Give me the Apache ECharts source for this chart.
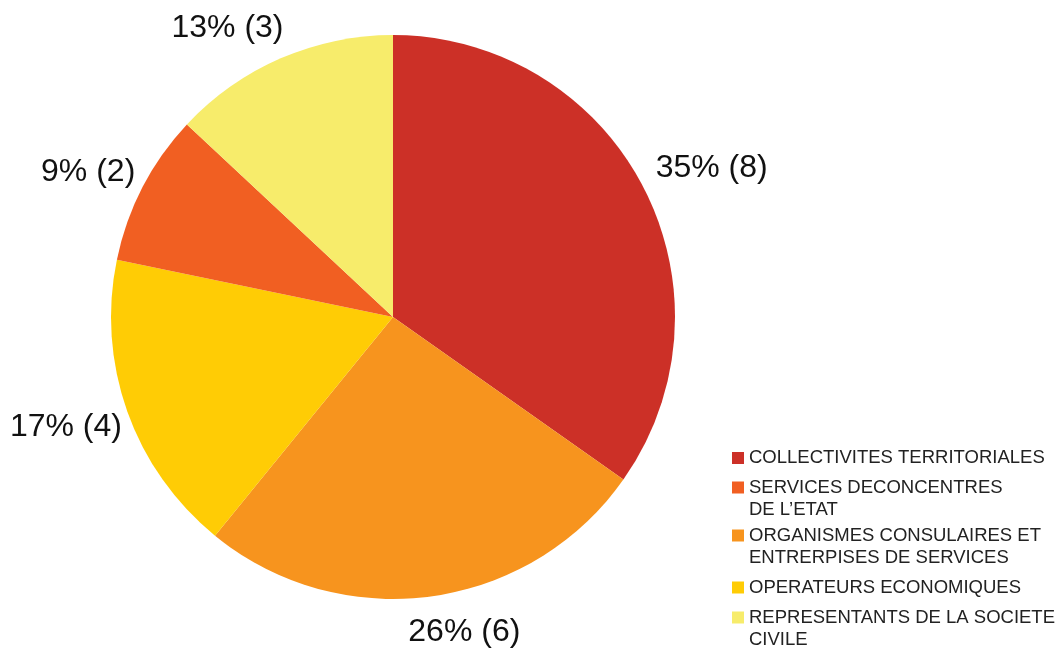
<!DOCTYPE html>
<html>
<head>
<meta charset="utf-8">
<script src="https://cdn.jsdelivr.net/npm/echarts@6/dist/echarts.min.js"></script>
<style>
  html, body { margin: 0; padding: 0; background: #fff; }
  #chart { width: 1062px; height: 651px; }
</style>
</head>
<body>
<div id="chart"></div>
<script>
// Slice order, clockwise from 12 o'clock
const categories = [
  'COLLECTIVITES TERRITORIALES',
  'ORGANISMES CONSULAIRES ET\nENTRERPISES DE SERVICES',
  'OPERATEURS ECONOMIQUES',
  'SERVICES DECONCENTRES\nDE L\u2019ETAT',
  'REPRESENTANTS DE LA SOCIETE\nCIVILE'
];
const counts = [8, 6, 4, 2, 3];
const sliceColors = ['#CC3027', '#F7941E', '#FFCC05', '#F15F22', '#F7EC6B'];

// Legend order (top to bottom)
const legendOrder = [
  'COLLECTIVITES TERRITORIALES',
  'SERVICES DECONCENTRES\nDE L\u2019ETAT',
  'ORGANISMES CONSULAIRES ET\nENTRERPISES DE SERVICES',
  'OPERATEURS ECONOMIQUES',
  'REPRESENTANTS DE LA SOCIETE\nCIVILE'
];
// Vertical position of each legend entry
const legendTops = [447, 476.5, 524.5, 576.5, 606.5];

// Label placement around the pie (radial offset, horizontal offset) per slice
const labelLen = [42, 36, 46, 33, 33];
const labelLen2 = [-30, -33, -43, -27, -21];

const FONT = 'Liberation Sans, Arial, Helvetica, sans-serif';
const LEGEND_LINE = 22;

const chart = echarts.init(document.getElementById('chart'), null, { renderer: 'canvas' });

const pieData = categories.map((name, i) => ({
  name: name,
  value: counts[i],
  itemStyle: { color: sliceColors[i] },
  labelLine: { show: false, length: labelLen[i], length2: labelLen2[i] }
}));

// One legend block per entry; wrapped entries keep the square beside the first line
const legends = legendOrder.map((name, i) => {
  const multi = name.indexOf('\n') >= 0;
  const h = multi ? 12 + LEGEND_LINE : 12;
  const icon = multi
    ? 'path://M0,0h12v12h-12zM0,' + h + 'h0'
    : 'rect';
  return {
    orient: 'vertical',
    left: 732,
    top: legendTops[i],
    padding: 0,
    itemWidth: 12,
    itemHeight: h,
    itemGap: 0,
    selectedMode: false,
    data: [{ name: name, icon: icon }],
    textStyle: {
      fontFamily: FONT,
      fontSize: 18.5,
      lineHeight: LEGEND_LINE,
      color: '#222222'
    }
  };
});

chart.setOption({
  backgroundColor: '#ffffff',
  animation: false,
  color: sliceColors,
  legend: legends,
  series: [{
    type: 'pie',
    center: [393, 317],
    radius: 282,
    startAngle: 90,
    clockwise: true,
    avoidLabelOverlap: false,
    data: pieData,
    label: {
      show: true,
      position: 'outside',
      fontFamily: FONT,
      fontSize: 32,
      color: '#111111',
      formatter: p => Math.round(p.percent) + '% (' + p.value + ')'
    },
    labelLine: { show: false },
    itemStyle: { borderWidth: 0 },
    emphasis: { disabled: true }
  }]
});
</script>
</body>
</html>
